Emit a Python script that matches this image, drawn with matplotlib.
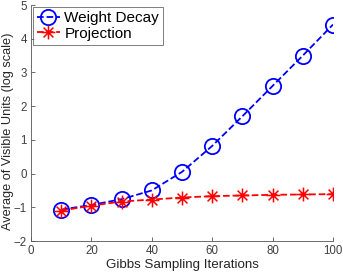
import numpy as np
import matplotlib
matplotlib.use("Agg")
import matplotlib.pyplot as plt
from matplotlib.path import Path

plt.rcParams['font.family'] = ['Liberation Sans', 'DejaVu Sans']

iters = [10, 20, 30, 40, 50, 60, 70, 80, 90, 100]
weight_decay = [-1.07, -0.93, -0.76, -0.50, 0.05, 0.82, 1.70, 2.60, 3.50, 4.42]
projection = [-1.10, -0.95, -0.83, -0.77, -0.71, -0.67, -0.65, -0.63, -0.62, -0.61]

# MATLAB-style 8-armed asterisk
d = 0.707
asterisk = Path(
    [(-1, 0), (1, 0), (0, -1), (0, 1), (-d, -d), (d, d), (-d, d), (d, -d)],
    [Path.MOVETO, Path.LINETO] * 4)

fig = plt.figure(figsize=(3.43, 2.75), dpi=100)
ax = fig.add_axes([31/343, 1 - 241/275, 302/343, 236/275])

ax.plot(iters, weight_decay, '--', marker='o', color='#0000ff', lw=1.3, ms=11,
        mfc='none', mew=1.3, label='Weight Decay')
ax.plot(iters, projection, '--', marker=asterisk, color='#ff0000', lw=1.3,
        ms=10, mew=1.1, label='Projection')

ax.set_xlim(0, 100)
ax.set_ylim(-2, 5)
ax.set_xticks([0, 20, 40, 60, 80, 100])
ax.set_yticks([-2, -1, 0, 1, 2, 3, 4, 5])
ax.spines['top'].set_visible(False)
ax.spines['right'].set_visible(False)
for s in ('left', 'bottom'):
    ax.spines[s].set_color('#555555')
    ax.spines[s].set_linewidth(0.6)
ax.tick_params(direction='in', length=3, width=0.6, colors='#555555',
               labelsize=8.3, labelcolor='#404040', pad=3)

ax.set_xlabel('Gibbs Sampling Iterations', fontsize=9.6, labelpad=1,
              color='#262626')
ax.set_ylabel('Average of Visible Units (log scale)', fontsize=9.2,
              color='#262626', va='center')
ax.yaxis.set_label_coords(-23/302, 0.464)

leg = ax.legend(loc='upper left', fontsize=11, fancybox=False,
                edgecolor='#444444', borderpad=0.25, handlelength=1.5,
                handletextpad=0.3, labelspacing=0.1, borderaxespad=0,
                bbox_to_anchor=(2/302, 0.99))
leg.get_frame().set_linewidth(0.6)

fig.savefig('out.png', dpi=100)
